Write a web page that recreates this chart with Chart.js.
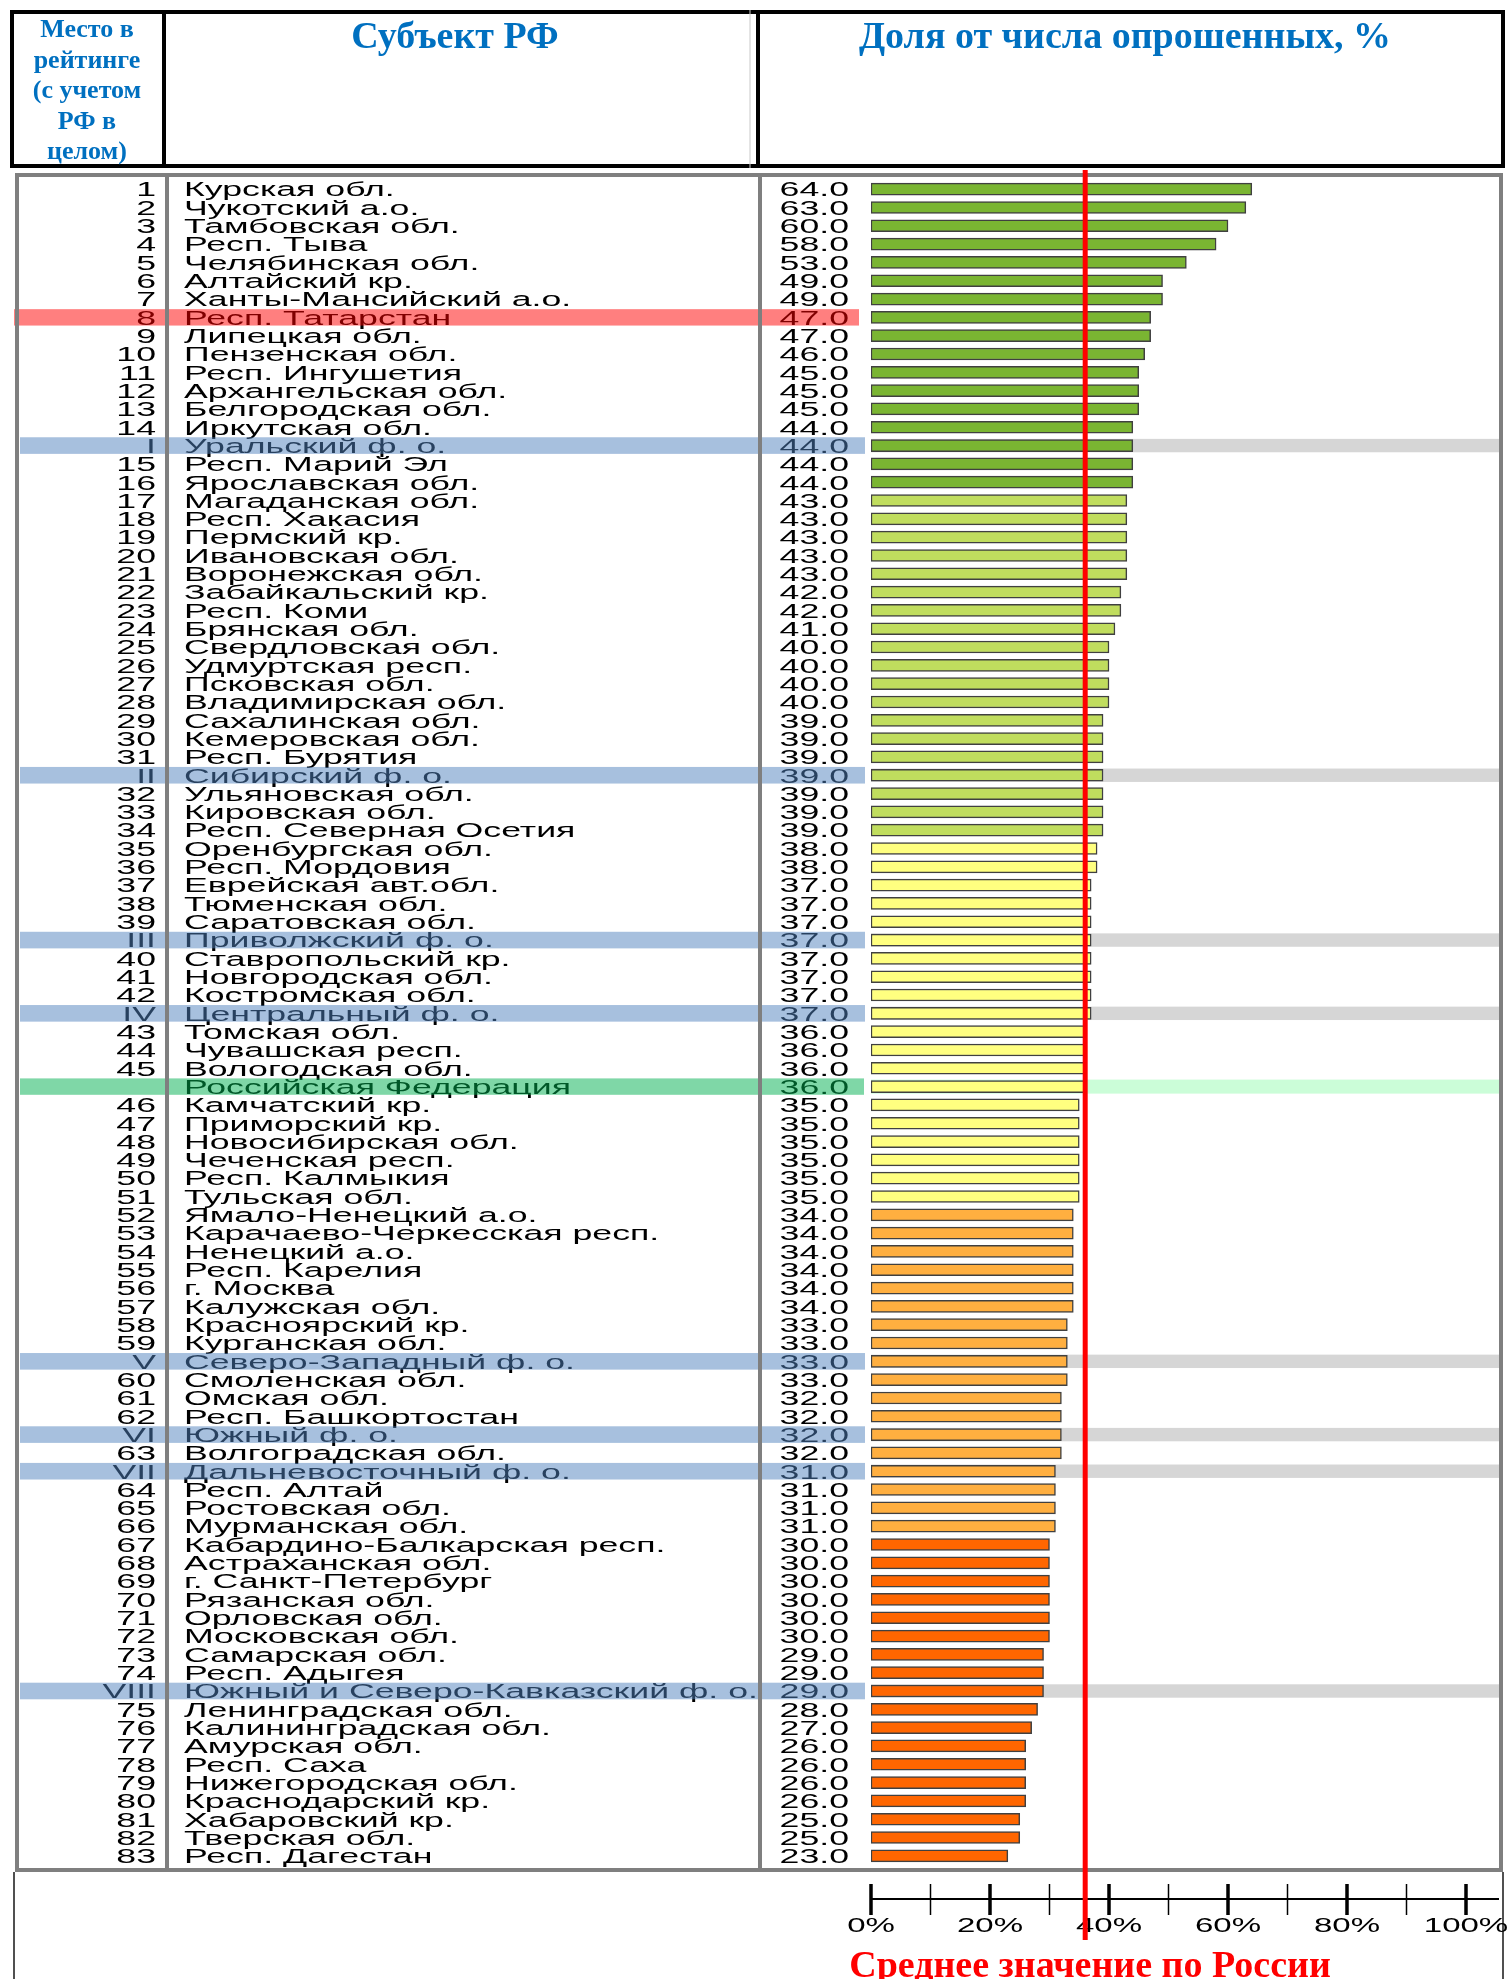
<!DOCTYPE html>
<html>
<head>
<meta charset="utf-8">
<script src="https://cdn.jsdelivr.net/npm/chart.js@4.4.0/dist/chart.umd.min.js"></script>
<style>
    html, body { margin: 0; padding: 0; background: #fff; overflow: hidden; }
    canvas { display: block; }
</style>
</head>
<body>
<canvas id="rating" width="1509" height="1979"></canvas>
<script>
// rows of the table, top to bottom
const ranks = [
    '1', '2', '3', '4', '5', '6', '7', '8', '9', '10', '11', '12', '13', '14', 'I', '15', '16',
    '17', '18', '19', '20', '21', '22', '23', '24', '25', '26', '27', '28', '29', '30', '31', 'II',
    '32', '33', '34', '35', '36', '37', '38', '39', 'III', '40', '41', '42', 'IV', '43', '44', '45', '',
    '46', '47', '48', '49', '50', '51', '52', '53', '54', '55', '56', '57', '58', '59', 'V',
    '60', '61', '62', 'VI', '63', 'VII', '64', '65', '66', '67', '68', '69', '70', '71', '72',
    '73', '74', 'VIII', '75', '76', '77', '78', '79', '80', '81', '82', '83'
];
const names = [
    'Курская обл.', 'Чукотский а.о.', 'Тамбовская обл.', 'Респ. Тыва', 'Челябинская обл.',
    'Алтайский кр.', 'Ханты-Мансийский а.о.', 'Респ. Татарстан', 'Липецкая обл.', 'Пензенская обл.',
    'Респ. Ингушетия', 'Архангельская обл.', 'Белгородская обл.', 'Иркутская обл.', 'Уральский ф. о.',
    'Респ. Марий Эл', 'Ярославская обл.', 'Магаданская обл.', 'Респ. Хакасия', 'Пермский кр.',
    'Ивановская обл.', 'Воронежская обл.', 'Забайкальский кр.', 'Респ. Коми', 'Брянская обл.',
    'Свердловская обл.', 'Удмуртская респ.', 'Псковская обл.', 'Владимирская обл.', 'Сахалинская обл.',
    'Кемеровская обл.', 'Респ. Бурятия', 'Сибирский ф. о.', 'Ульяновская обл.', 'Кировская обл.',
    'Респ. Северная Осетия', 'Оренбургская обл.', 'Респ. Мордовия', 'Еврейская авт.обл.', 'Тюменская обл.',
    'Саратовская обл.', 'Приволжский ф. о.', 'Ставропольский кр.', 'Новгородская обл.', 'Костромская обл.',
    'Центральный ф. о.', 'Томская обл.', 'Чувашская респ.', 'Вологодская обл.', 'Российская Федерация',
    'Камчатский кр.', 'Приморский кр.', 'Новосибирская обл.', 'Чеченская респ.', 'Респ. Калмыкия',
    'Тульская обл.', 'Ямало-Ненецкий а.о.', 'Карачаево-Черкесская респ.', 'Ненецкий а.о.', 'Респ. Карелия',
    'г. Москва', 'Калужская обл.', 'Красноярский кр.', 'Курганская обл.', 'Северо-Западный ф. о.',
    'Смоленская обл.', 'Омская обл.', 'Респ. Башкортостан', 'Южный ф. о.', 'Волгоградская обл.',
    'Дальневосточный ф. о.', 'Респ. Алтай', 'Ростовская обл.', 'Мурманская обл.', 'Кабардино-Балкарская респ.',
    'Астраханская обл.', 'г. Санкт-Петербург', 'Рязанская обл.', 'Орловская обл.', 'Московская обл.',
    'Самарская обл.', 'Респ. Адыгея', 'Южный и Северо-Кавказский ф. о.', 'Ленинградская обл.', 'Калининградская обл.',
    'Амурская обл.', 'Респ. Саха', 'Нижегородская обл.', 'Краснодарский кр.', 'Хабаровский кр.',
    'Тверская обл.', 'Респ. Дагестан'
];
const values = [
    64, 63, 60, 58, 53, 49, 49, 47, 47, 46, 45, 45, 45, 44, 44, 44, 44,
    43, 43, 43, 43, 43, 42, 42, 41, 40, 40, 40, 40, 39, 39, 39, 39,
    39, 39, 39, 38, 38, 37, 37, 37, 37, 37, 37, 37, 37, 36, 36, 36, 36,
    35, 35, 35, 35, 35, 35, 34, 34, 34, 34, 34, 34, 33, 33, 33,
    33, 32, 32, 32, 32, 31, 31, 31, 31, 30, 30, 30, 30, 30, 30,
    29, 29, 29, 28, 27, 26, 26, 26, 26, 25, 25, 23
];

const tick_values = [0, 20, 40, 60, 80, 100];
const tick_labels = ['0%', '20%', '40%', '60%', '80%', '100%'];
const minor_ticks = [10, 30, 50, 70, 90];

const marked_region = 'Респ. Татарстан';
const country_row = 'Российская Федерация';

function barColor(v) {
    if (v >= 44) return '#7AB532';
    if (v >= 39) return '#C0DD5E';
    if (v >= 35) return '#FFFF80';
    if (v >= 31) return '#FFAF40';
    return '#FF6600';
}
const isDistrict = (i) => /^[IVX]+$/.test(ranks[i]);

// text of the source picture is stretched sideways
const SX = 1.74;
function wideText(ctx, text, x, y, align, sx) {
    ctx.save();
    ctx.translate(x, y);
    ctx.scale(sx || SX, 1);
    ctx.textAlign = align;
    ctx.fillText(text, 0, 0);
    ctx.restore();
}

function vline(ctx, x, y1, y2, w, color) {
    ctx.beginPath();
    ctx.lineWidth = w;
    ctx.strokeStyle = color;
    ctx.moveTo(x, y1);
    ctx.lineTo(x, y2);
    ctx.stroke();
}

const tablePlugin = {
    id: 'table',
    beforeDatasetsDraw(chart) {
        const ctx = chart.ctx;
        const ys = chart.scales.y, xs = chart.scales.x;
        const x0 = xs.getPixelForValue(0);
        ctx.save();
        names.forEach((name, i) => {
            const yc = ys.getPixelForValue(i);
            if (isDistrict(i)) {
                ctx.fillStyle = '#D6D6D6';
                ctx.fillRect(x0, yc - 6.7, 1500 - x0, 13.4);
            } else if (name === country_row) {
                ctx.fillStyle = '#CBFDD8';
                ctx.fillRect(x0, yc - 7, 1500 - x0, 14);
            }
        });
        ctx.restore();
    },
    afterDraw(chart) {
        const ctx = chart.ctx;
        const ys = chart.scales.y, xs = chart.scales.x;
        ctx.save();

        // table text
        ctx.font = '20.5px "Liberation Sans", Arial, sans-serif';
        ctx.fillStyle = '#000';
        ctx.textBaseline = 'alphabetic';
        names.forEach((name, i) => {
            const yb = ys.getPixelForValue(i) + 7.3;
            wideText(ctx, ranks[i], 156, yb, 'right');
            wideText(ctx, name, 184, yb, 'left');
            wideText(ctx, values[i].toFixed(1), 849, yb, 'right');
        });

        // highlighted rows
        names.forEach((name, i) => {
            const yc = ys.getPixelForValue(i);
            if (isDistrict(i)) {
                ctx.fillStyle = 'rgba(79,129,189,0.5)';
                ctx.fillRect(20, yc - 8.3, 845, 16.6);
            } else if (name === country_row) {
                ctx.fillStyle = 'rgba(0,176,80,0.5)';
                ctx.fillRect(20, yc - 8.2, 844, 16.4);
            } else if (name === marked_region) {
                ctx.fillStyle = 'rgba(255,0,0,0.5)';
                ctx.fillRect(14, yc - 8.2, 845, 16.4);
            }
        });

        // table frame
        ctx.lineWidth = 4;
        ctx.strokeStyle = '#7F7F7F';
        ctx.strokeRect(17, 175, 1484, 1695);
        vline(ctx, 167, 173, 1872, 4, '#7F7F7F');
        vline(ctx, 760, 173, 1872, 4, '#7F7F7F');
        vline(ctx, 14, 1872, 1979, 2, '#505050');
        vline(ctx, 1503, 1872, 1979, 2, '#505050');

        // header
        ctx.lineWidth = 4;
        ctx.strokeStyle = '#000';
        ctx.strokeRect(12, 12, 1491, 154);
        vline(ctx, 750, 10, 168, 1, '#C8C8C8');
        vline(ctx, 164, 10, 168, 4, '#000');
        vline(ctx, 758, 10, 168, 4, '#000');
        ctx.fillStyle = '#0070C0';
        ctx.textAlign = 'center';
        ctx.font = 'bold 38px "Liberation Serif", "Times New Roman", serif';
        ctx.fillText('Субъект РФ', 455, 48);
        ctx.fillText('Доля от числа опрошенных, %', 1125, 48);
        ctx.font = 'bold 26px "Liberation Serif", "Times New Roman", serif';
        ['Место в', 'рейтинге', '(с учетом', 'РФ в', 'целом)'].forEach((t, k) => {
            ctx.fillText(t, 87, 37 + k * 30.6);
        });

        // percent axis under the table
        const x0 = xs.getPixelForValue(0);
        ctx.beginPath();
        ctx.lineWidth = 2;
        ctx.strokeStyle = '#000';
        ctx.moveTo(x0, 1899);
        ctx.lineTo(1499, 1899);
        ctx.stroke();
        minor_ticks.forEach(v => vline(ctx, xs.getPixelForValue(v), 1884, 1915, 1.5, '#000'));
        tick_values.forEach(v => vline(ctx, xs.getPixelForValue(v), 1884, 1915, 3.5, '#000'));
        ctx.fillStyle = '#000';
        ctx.font = '20px "Liberation Sans", Arial, sans-serif';
        tick_values.forEach((v, k) => wideText(ctx, tick_labels[k], xs.getPixelForValue(v), 1932, 'center', 1.65));

        // Russia average line
        const avg = values[names.indexOf(country_row)];
        vline(ctx, xs.getPixelForValue(avg), 170, 1940, 5, '#FF0000');
        ctx.fillStyle = '#FF0000';
        ctx.textAlign = 'center';
        ctx.font = 'bold 38px "Liberation Serif", "Times New Roman", serif';
        ctx.fillText('Среднее значение по России', 1090, 1977);

        ctx.restore();
    }
};

const ctx = document.getElementById('rating').getContext('2d');
const chart = new Chart(ctx, {
    type: 'bar',
    data: {
        labels: names,
        datasets: [{
            data: values,
            backgroundColor: values.map(barColor),
            borderColor: '#404040',
            borderWidth: 1.5,
            borderSkipped: false,
            barThickness: 12
        }]
    },
    options: {
        indexAxis: 'y',
        responsive: false,
        animation: false,
        devicePixelRatio: 1,
        layout: { padding: { left: 871, right: 43, top: 180, bottom: 114 } },
        scales: {
            x: { display: false, min: 0, max: 100 },
            y: { display: false }
        },
        plugins: {
            legend: { display: false },
            tooltip: { enabled: false }
        }
    },
    plugins: [tablePlugin]
});
</script>
</body>
</html>
